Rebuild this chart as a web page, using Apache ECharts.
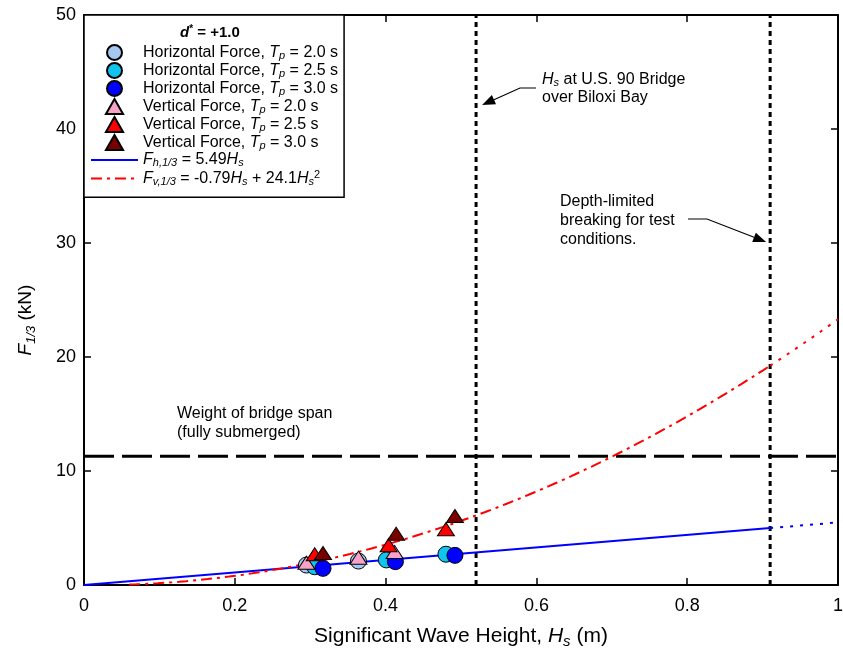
<!DOCTYPE html>
<html><head><meta charset="utf-8">
<script src="https://cdn.jsdelivr.net/npm/echarts@6/dist/echarts.min.js"></script>
<style>html,body{margin:0;padding:0;background:#fff}#c{width:843px;height:649px}</style>
</head><body><div id="c"></div>
<script>
// ---- data ----
const xTicks = [0, 0.2, 0.4, 0.6, 0.8, 1];
const yTicks = [0, 10, 20, 30, 40, 50];
const hzTp20 = [[0.295, 1.75], [0.364, 2.1]];
const hzTp25 = [[0.306, 1.6], [0.401, 2.2], [0.480, 2.7]];
const hzTp30 = [[0.317, 1.46], [0.413, 2.05], [0.492, 2.6]];
const vtTp20 = [[0.295, 1.95], [0.364, 2.4], [0.412, 2.9]];
const vtTp25 = [[0.306, 2.7], [0.404, 3.5], [0.480, 4.9]];
const vtTp30 = [[0.317, 2.8], [0.414, 4.5], [0.492, 6.05]];
const fhCoef = [5.49];          // Fh = a*Hs
const fvCoef = [-0.79, 24.1];   // Fv = b*Hs + c*Hs^2
const bridgeHs = 0.52;
const breakingHs = 0.91;
const spanWeight = 11.3;
const fvStartHs = 0.06;
const fitEndHs = 1.0;

// ---- fit curves from the stated equations ----
function fh(h){ return fhCoef[0]*h; }
function fv(h){ return fvCoef[0]*h + fvCoef[1]*h*h; }
function curve(f, a, b, n){ const out=[]; for(let i=0;i<=n;i++){ const h=a+(b-a)*i/n; out.push([h, f(h)]);} return out; }

const FONT = 'Liberation Sans, Arial, sans-serif';
const FS = 16;
const rich = {
  n: {fontSize: FS, fontFamily: FONT, color: '#000', lineHeight: 17.8},
  i: {fontSize: FS, fontFamily: FONT, color: '#000', fontStyle: 'italic', lineHeight: 17.8},
  sub: {fontSize: 11, fontFamily: FONT, color: '#000', fontStyle: 'italic', lineHeight: 11, verticalAlign: 'bottom'},
  sup: {fontSize: 11, fontFamily: FONT, color: '#000', lineHeight: 11, verticalAlign: 'top'}
};
function richBig(fs){ return {
  n: {fontSize: fs, fontFamily: FONT, color: '#000', lineHeight: fs + 5},
  i: {fontSize: fs, fontFamily: FONT, color: '#000', fontStyle: 'italic', lineHeight: fs + 5},
  sub: {fontSize: Math.round(fs*0.7), fontFamily: FONT, color: '#000', fontStyle: 'italic', lineHeight: Math.round(fs*0.7), verticalAlign: 'bottom'}
};}

const names = {
  h20: 'Horizontal Force, Tp = 2.0 s', h25: 'Horizontal Force, Tp = 2.5 s', h30: 'Horizontal Force, Tp = 3.0 s',
  v20: 'Vertical Force, Tp = 2.0 s', v25: 'Vertical Force, Tp = 2.5 s', v30: 'Vertical Force, Tp = 3.0 s',
  fh: 'Fh', fv: 'Fv'
};
function legendFmt(name){
  if (name === 'Fh') return '{i|F}{sub|h,1/3}{n| = 5.49}{i|H}{sub|s}';
  if (name === 'Fv') return '{i|F}{sub|v,1/3}{n| = -0.79}{i|H}{sub|s}{n| + 24.1}{i|H}{sub|s}{sup|2}';
  const m = name.match(/^(.*), Tp = (.*)$/);
  return '{n|' + m[1] + ', }{i|T}{sub|p}{n| = ' + m[2] + '}';
}

const TRI = 'path://M8,0 L16,14 L0,14 Z';
function scatter(name, data, symbol, color){
  const tri = symbol === 'triangle';
  return {name, type: 'scatter', data, symbol: tri ? TRI : 'circle', symbolSize: tri ? [17, 15] : 16,
    symbolKeepAspect: true,
    itemStyle: {color, borderColor: '#000', borderWidth: 1, opacity: 1}, z: 5, emphasis: {disabled: true}};
}
function line(name, data, color, type, width, z){
  return {name, type: 'line', data, symbol: 'none', showSymbol: false, smooth: false,
    lineStyle: {color, width, type}, itemStyle: {color}, z: z || 3, silent: true, animation: false};
}

const chart = echarts.init(document.getElementById('c'), null, {renderer: 'canvas'});
const axisCommon = {
  axisLine: {show: true, onZero: false, lineStyle: {color: '#000', width: 2}},
  axisTick: {show: true, inside: true, length: 7, lineStyle: {color: '#000', width: 1.5}},
  splitLine: {show: false}
};
const hidden = {color: 'rgba(0,0,0,0)', borderColor: 'rgba(0,0,0,0)', borderWidth: 0};
chart.setOption({
  animation: false,
  grid: {left: 84, right: 5, top: 15, bottom: 64, containLabel: false, outerBoundsMode: 'none'},
  xAxis: [
    Object.assign({type: 'value', min: xTicks[0], max: xTicks[xTicks.length-1], interval: 0.2, position: 'bottom',
      name: '{n|Significant Wave Height, }{i|H}{sub|s}{n| (m)}', nameLocation: 'middle', nameGap: 38,
      nameTextStyle: {fontSize: 21, fontFamily: FONT, color: '#000', rich: richBig(21)},
      axisLabel: {fontSize: 18, fontFamily: FONT, color: '#000', margin: 12, formatter: v => String(+v.toFixed(1))}}, axisCommon),
    Object.assign({type: 'value', min: xTicks[0], max: xTicks[xTicks.length-1], interval: 0.2, position: 'top',
      axisLabel: {show: false}}, axisCommon)
  ],
  yAxis: [
    Object.assign({type: 'value', min: yTicks[0], max: yTicks[yTicks.length-1], interval: 10, position: 'left',
      name: '{i|F}{sub|1/3}{n| (kN)}', nameLocation: 'middle', nameGap: 46, nameRotate: 90,
      nameTextStyle: {fontSize: 19, fontFamily: FONT, color: '#000', rich: richBig(19), padding: [0, 40, 0, 0]},
      axisLabel: {fontSize: 18, fontFamily: FONT, color: '#000', margin: 8}}, axisCommon),
    Object.assign({type: 'value', min: yTicks[0], max: yTicks[yTicks.length-1], interval: 10, position: 'right',
      axisLabel: {show: false}}, axisCommon)
  ],
  legend: {
    orient: 'vertical', left: 84, top: 15, padding: [29, 6, 10, 6],
    itemWidth: 47, itemHeight: 15, itemGap: 0.6,
    backgroundColor: '#fff', borderColor: '#000', borderWidth: 1.5, borderRadius: 0,
    data: [names.h20, names.h25, names.h30, names.v20, names.v25, names.v30,
      {name: names.fh, itemStyle: hidden}, {name: names.fv, itemStyle: hidden}],
    formatter: legendFmt,
    textStyle: {fontSize: FS, fontFamily: FONT, color: '#000', rich},
    selectedMode: false, z: 10
  },
  series: [
    line('vbridge', [[bridgeHs, 0], [bridgeHs, 50]], '#000', [5, 4], 3, 2),
    line('vbreak', [[breakingHs, 0], [breakingHs, 50]], '#000', [5, 4], 3, 2),
    line('span', [[0, spanWeight], [1, spanWeight]], '#000', [30, 8], 3, 2),
    line(names.fh, curve(fh, 0, breakingHs, 2), '#0000ff', 'solid', 2, 3),
    line('fhExt', curve(fh, breakingHs, fitEndHs, 2), '#0000ff', [3, 7], 2, 3),
    line(names.fv, curve(fv, fvStartHs, breakingHs, 90), '#ff0000', [11, 5, 3, 5], 2, 3),
    line('fvExt', curve(fv, breakingHs, fitEndHs, 12), '#ff0000', [3, 7], 2, 3),
    scatter(names.h20, hzTp20, 'circle', '#a6c8f0'),
    scatter(names.h25, hzTp25, 'circle', '#10c4f0'),
    scatter(names.h30, hzTp30, 'circle', '#0000ff'),
    scatter(names.v20, vtTp20, 'triangle', '#f7a3c8'),
    scatter(names.v25, vtTp25, 'triangle', '#ff0000'),
    scatter(names.v30, vtTp30, 'triangle', '#7a0000')
  ]
});

// ---- annotations ----
function arrow(pts){
  const a = pts[pts.length-2], b = pts[pts.length-1];
  const ang = Math.atan2(b[1]-a[1], b[0]-a[0]);
  const L = 13, W = 5;
  const bx = b[0] - L*Math.cos(ang), by = b[1] - L*Math.sin(ang);
  const px = -Math.sin(ang)*W, py = Math.cos(ang)*W;
  return [
    {type: 'polyline', shape: {points: pts.slice(0, -1).concat([[bx, by]])}, style: {stroke: '#000', lineWidth: 1.2, fill: null}, z: 20},
    {type: 'polygon', shape: {points: [[b[0], b[1]], [bx+px, by+py], [bx-px, by-py]]}, style: {fill: '#000'}, z: 20}
  ];
}
function txt(x, y, text){
  return {type: 'text', x, y, style: {text, rich, font: FS + 'px ' + FONT, fill: '#000', verticalAlign: 'middle', align: 'left'}, z: 20};
}
const p1 = chart.convertToPixel({xAxisIndex: 0, yAxisIndex: 0}, [bridgeHs, 0]);
const p2 = chart.convertToPixel({xAxisIndex: 0, yAxisIndex: 0}, [breakingHs, 0]);
chart.setOption({graphic: [
  {type: 'text', x: 210, y: 33, style: {text: '{b|d}{bs|*}{bn| = +1.0}', align: 'center', verticalAlign: 'middle',
    rich: {b: {fontSize: 15, fontWeight: 'bold', fontStyle: 'italic', fontFamily: FONT, lineHeight: 18},
           bs: {fontSize: 10, fontWeight: 'bold', fontFamily: FONT, lineHeight: 10, verticalAlign: 'top'},
           bn: {fontSize: 15, fontWeight: 'bold', fontFamily: FONT, lineHeight: 18}}}, z: 30},
  txt(177, 414, '{n|Weight of bridge span}'),
  txt(177, 433, '{n|(fully submerged)}'),
  txt(542, 80, '{i|H}{sub|s}{n| at U.S. 90 Bridge}'),
  txt(542, 98, '{n|over Biloxi Bay}'),
  txt(560, 202, '{n|Depth-limited}'),
  txt(560, 221, '{n|breaking for test}'),
  txt(560, 240, '{n|conditions.}')
].concat(arrow([[536, 88], [520, 88], [p1[0] + 6, 105]]))
 .concat(arrow([[688, 219], [707, 219], [p2[0] - 4, 242]]))});
</script>
</body></html>
